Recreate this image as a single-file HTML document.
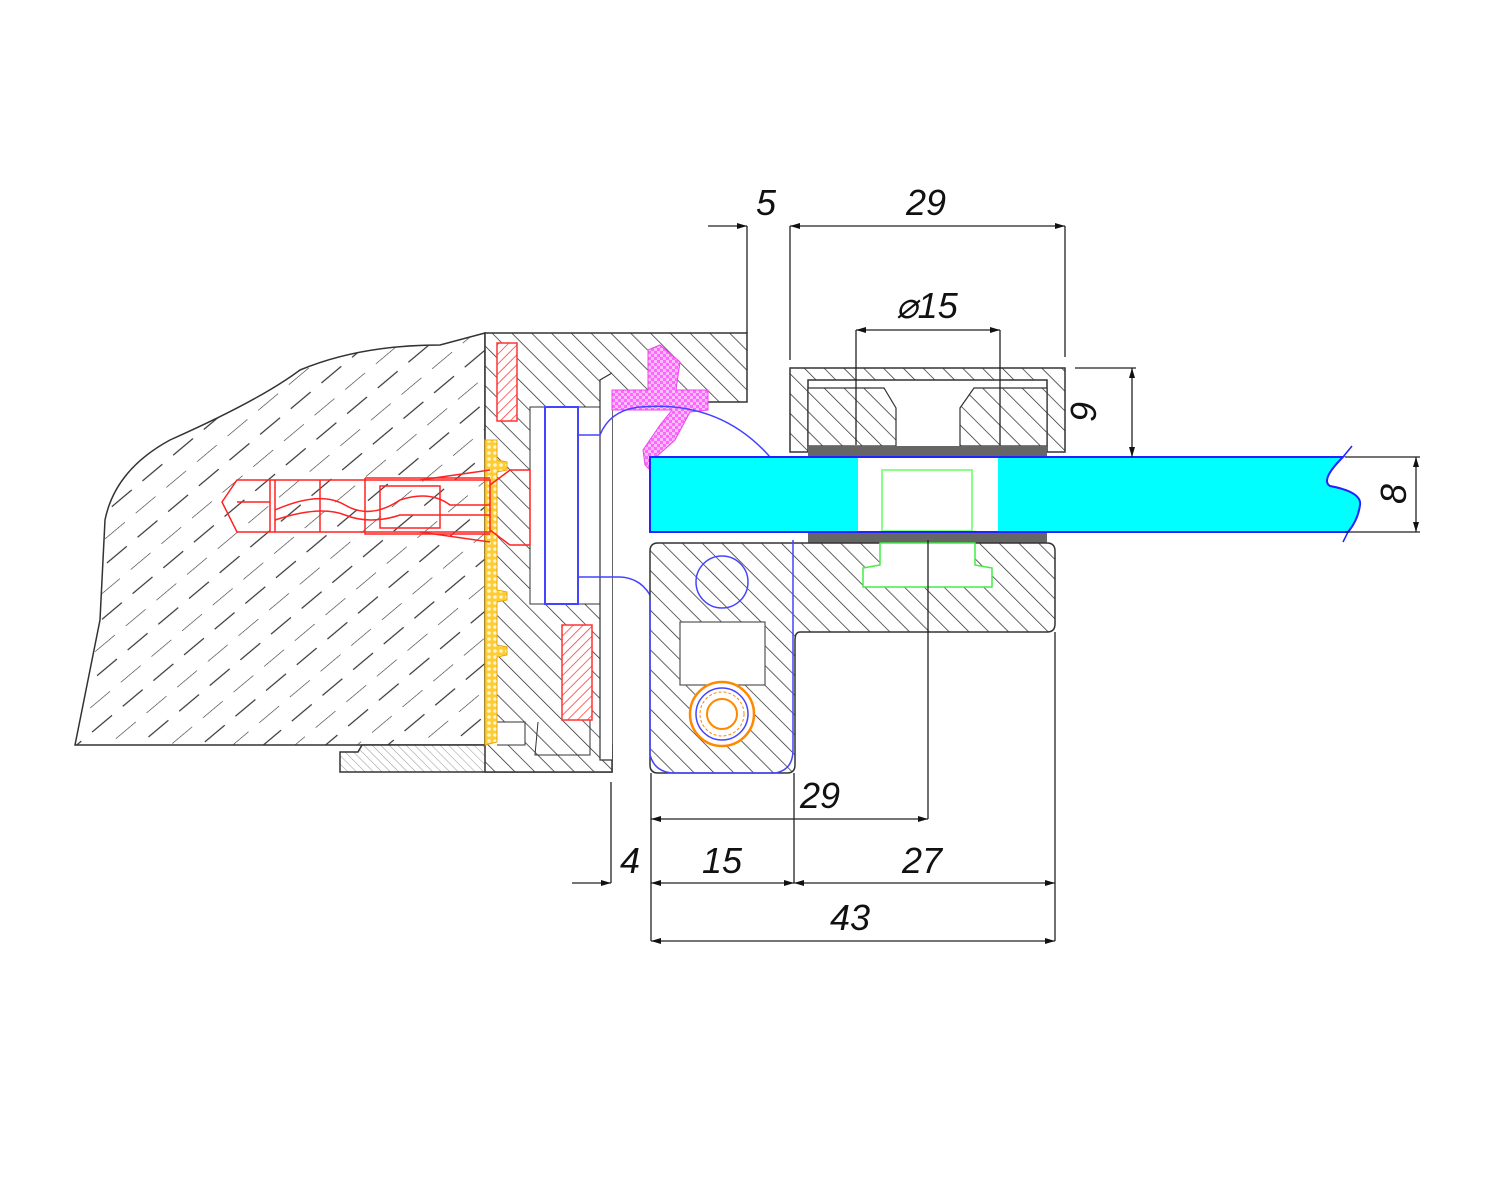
<!DOCTYPE html>
<html><head><meta charset="utf-8"><style>
html,body{margin:0;padding:0;background:#fff;}
svg{display:block;}
text{font-family:"Liberation Sans",sans-serif;font-style:italic;font-size:36px;fill:#111;}
</style></head><body>
<svg width="1500" height="1200" viewBox="0 0 1500 1200" xmlns="http://www.w3.org/2000/svg">
<defs>
<pattern id="h" width="14" height="14" patternUnits="userSpaceOnUse" patternTransform="rotate(-45)">
<rect width="14" height="14" fill="#fff"/><line x1="0" y1="0" x2="0" y2="14" stroke="#222" stroke-width="1.4"/></pattern>
<pattern id="hs" width="6" height="6" patternUnits="userSpaceOnUse" patternTransform="rotate(-45)">
<rect width="6" height="6" fill="#fff"/><line x1="0" y1="0" x2="0" y2="6" stroke="#999" stroke-width="1"/></pattern>
<pattern id="hr" width="7" height="7" patternUnits="userSpaceOnUse" patternTransform="rotate(45)">
<rect width="7" height="7" fill="#fff"/><line x1="0" y1="0" x2="0" y2="7" stroke="#f33" stroke-width="1.5"/></pattern>
<pattern id="wall" width="40" height="40" patternUnits="userSpaceOnUse" patternTransform="rotate(50)">
<rect width="40" height="40" fill="#fff"/><line x1="0" y1="0" x2="0" y2="26" stroke="#333" stroke-width="1.2"/><line x1="20" y1="14" x2="20" y2="40" stroke="#333" stroke-width="1.2"/></pattern>
<pattern id="pk" width="6" height="6" patternUnits="userSpaceOnUse">
<rect width="6" height="6" fill="#f6f"/><rect width="3" height="3" fill="#fbf"/><rect x="3" y="3" width="3" height="3" fill="#fbf"/></pattern>
<pattern id="yl" width="6" height="6" patternUnits="userSpaceOnUse">
<rect width="6" height="6" fill="#fc3"/><circle cx="3" cy="3" r="1.8" fill="#fff6d0"/></pattern>
<marker id="a" viewBox="0 0 10 6" refX="10" refY="3" markerWidth="16" markerHeight="6" orient="auto-start-reverse" markerUnits="userSpaceOnUse">
<path d="M0,0 L10,3 L0,6z" fill="#111"/></marker>
</defs>

<path d="M75,745 L100,620 L105,520 Q115,470 170,440 Q260,400 300,370 Q360,345 440,345 L485,333 L485,745 Z" fill="url(#wall)" stroke="#333" stroke-width="1.5"/>
<path d="M340,752 L358,752 L362,745 L612,745 L612,772 L340,772 Z" fill="url(#hs)" stroke="#333" stroke-width="1.5"/>

<path d="M485,333 L747,333 L747,402 L700,402 L612,402 L612,772 L485,772 Z" fill="url(#h)" stroke="#333" stroke-width="1.5"/>
<rect x="530" y="407" width="70" height="197" fill="#fff" stroke="#333" stroke-width="1"/>
<path d="M612,373 L600,380 L600,760 L612,760" fill="#fff" stroke="#333" stroke-width="1.2"/>
<rect x="545" y="407" width="33" height="197" fill="#fff" stroke="#44f" stroke-width="2"/>
<path d="M538,722 L535,755 L590,755 L590,700" fill="none" stroke="#333" stroke-width="1"/>
<path d="M495,722 L525,722 L525,745 L497,745" fill="#fff" stroke="#333" stroke-width="1"/>
<rect x="497" y="343" width="20" height="78" fill="url(#hr)" stroke="#f33" stroke-width="1.5"/>
<rect x="562" y="625" width="30" height="95" fill="url(#hr)" stroke="#f33" stroke-width="1.5"/>
<path d="M485,440 L497,440 L497,460 L507,462 L507,470 L497,472 L497,590 L507,592 L507,600 L497,602 L497,645 L507,647 L507,655 L497,657 L497,742 L485,745Z" fill="url(#yl)" stroke="#e9a800" stroke-width="1"/>
<g fill="none" stroke="#f22" stroke-width="1.5">
<path d="M222,502 L237,480 L490,480 L490,532 L237,532 Z"/>
<path d="M237,502 L270,502 M270,480 L270,532 M275,480 L275,532 M320,480 L320,532 M365,478 L365,534 L490,534 M365,478 L490,478"/>
<path d="M275,510 Q320,490 345,505 Q370,520 400,500 Q430,490 450,505 L490,505"/>
<path d="M275,520 Q320,505 345,515 Q370,525 400,515 L490,515"/>
<path d="M380,486 L440,486 L440,528 L380,528 Z"/>
<path d="M490,485 L510,470 L530,470 L530,545 L510,545 L490,530"/>
<path d="M420,480 L490,470 M420,532 L490,542"/>
</g>

<path d="M612,390 L648,390 L648,350 L660,345 L680,362 L676,390 L708,390 L708,410 L690,412 L675,440 L655,458 L650,470 L645,465 L643,450 L660,425 L672,410 L612,410 Z" fill="url(#pk)" stroke="#e4e" stroke-width="1"/>
<path d="M578,435 L600,435 Q610,410 640,407 Q720,400 770,457" fill="none" stroke="#44f" stroke-width="1.5"/>
<path d="M578,577 L620,577 Q640,578 650,595" fill="none" stroke="#44f" stroke-width="1.5"/>

<path d="M790,368 L1065,368 L1065,452 L1047,452 L1047,380 L808,380 L808,452 L790,452 Z" fill="url(#h)" stroke="#333" stroke-width="1.5"/>
<path d="M808,388 L884,388 L896,408 L896,446 L808,446 Z" fill="url(#h)" stroke="#333" stroke-width="1.2"/>
<path d="M1047,388 L974,388 L960,408 L960,446 L1047,446 Z" fill="url(#h)" stroke="#333" stroke-width="1.2"/>
<rect x="808" y="446" width="239" height="10" fill="#666"/>
<rect x="808" y="533" width="239" height="10" fill="#666"/>

<path d="M650,457 L1343,457 Q1320,480 1330,486 Q1362,492 1360,505 Q1358,520 1348,532 L650,532 Z" fill="#0ff" stroke="#22f" stroke-width="2"/>
<path d="M1343,457 L1352,446 M1348,532 L1343,542" stroke="#22f" stroke-width="1.5"/>
<rect x="858" y="458" width="140" height="73" fill="#fff"/>
<rect x="882" y="470" width="90" height="61" fill="none" stroke="#8f8" stroke-width="2"/>
<line x1="650" y1="457" x2="1343" y2="457" stroke="#22f" stroke-width="2"/>
<line x1="650" y1="532" x2="1348" y2="532" stroke="#22f" stroke-width="2"/>

<path d="M658,543 L1047,543 Q1055,543 1055,551 L1055,624 Q1055,632 1047,632 L800,632 Q795,632 795,640 L795,765 Q795,773 787,773 L658,773 Q650,773 650,765 L650,551 Q650,543 658,543 Z" fill="url(#h)" stroke="#333" stroke-width="1.5"/>
<path d="M880,543 L880,565 L863,568 L863,587 L992,587 L992,568 L975,565 L975,543 Z" fill="#fff" stroke="#4e4" stroke-width="1.5"/>
<rect x="680" y="622" width="85" height="63" fill="#fff" stroke="#555" stroke-width="1.2"/>
<circle cx="722" cy="582" r="26" fill="none" stroke="#44f" stroke-width="1.5"/>
<circle cx="722" cy="714" r="32" fill="#fff" stroke="#f80" stroke-width="2.5"/>
<circle cx="722" cy="714" r="26" fill="none" stroke="#44f" stroke-width="1.5"/>
<circle cx="722" cy="714" r="22" fill="none" stroke="#f80" stroke-width="1" stroke-dasharray="3 2"/>
<circle cx="722" cy="714" r="15" fill="none" stroke="#f80" stroke-width="2"/>
<path d="M650,600 L650,755 Q655,773 675,773 L775,773 Q793,770 793,750 L793,540" fill="none" stroke="#44f" stroke-width="1.5"/>

<g stroke="#222" stroke-width="1.3" fill="none">
<line x1="747" y1="226" x2="747" y2="333"/>
<line x1="790" y1="226" x2="790" y2="360"/>
<line x1="1065" y1="226" x2="1065" y2="357"/>
<line x1="708" y1="226" x2="747" y2="226" marker-end="url(#a)"/>
<line x1="790" y1="226" x2="1065" y2="226" marker-start="url(#a)" marker-end="url(#a)"/>
<line x1="856" y1="330" x2="856" y2="445"/>
<line x1="1000" y1="330" x2="1000" y2="445"/>
<line x1="856" y1="330" x2="1000" y2="330" marker-start="url(#a)" marker-end="url(#a)"/>
<line x1="1075" y1="368" x2="1136" y2="368"/>
<line x1="1132" y1="368" x2="1132" y2="457" marker-start="url(#a)" marker-end="url(#a)"/>
<line x1="1345" y1="457" x2="1420" y2="457"/>
<line x1="1345" y1="532" x2="1420" y2="532"/>
<line x1="1416" y1="457" x2="1416" y2="532" marker-start="url(#a)" marker-end="url(#a)"/>
<line x1="611" y1="782" x2="611" y2="883"/>
<line x1="651" y1="773" x2="651" y2="941"/>
<line x1="794" y1="773" x2="794" y2="883"/>
<line x1="928" y1="540" x2="928" y2="819"/>
<line x1="1055" y1="632" x2="1055" y2="941"/>
<line x1="651" y1="819" x2="928" y2="819" marker-start="url(#a)" marker-end="url(#a)"/>
<line x1="572" y1="883" x2="611" y2="883" marker-end="url(#a)"/>
<line x1="651" y1="883" x2="794" y2="883" marker-start="url(#a)" marker-end="url(#a)"/>
<line x1="794" y1="883" x2="1055" y2="883" marker-start="url(#a)" marker-end="url(#a)"/>
<line x1="651" y1="941" x2="1055" y2="941" marker-start="url(#a)" marker-end="url(#a)"/>
</g>
<text x="756" y="215">5</text>
<text x="906" y="215">29</text>
<text x="896" y="318">⌀15</text>
<text x="800" y="808">29</text>
<text x="620" y="873">4</text>
<text x="702" y="873">15</text>
<text x="902" y="873">27</text>
<text x="830" y="930">43</text>
<text transform="translate(1096,412) rotate(-90)" text-anchor="middle">9</text>
<text transform="translate(1406,494) rotate(-90)" text-anchor="middle">8</text>
</svg>
</body></html>
